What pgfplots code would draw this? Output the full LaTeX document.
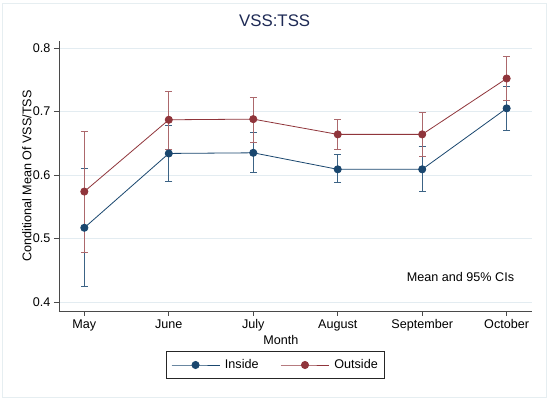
\documentclass[border=0pt]{standalone}
\usepackage{fontspec}
\setmainfont{Liberation Sans}
\usepackage{pgfplots}
\pgfplotsset{compat=1.18}
\definecolor{sblue}{HTML}{1A476F}
\definecolor{sred}{HTML}{90353B}
\definecolor{stitle}{HTML}{1E2A55}
\definecolor{sgrid}{HTML}{E3ECF1}
\definecolor{sframe}{HTML}{E6EEF1}
\definecolor{saxis}{HTML}{4A4A4A}
\begin{document}
\begin{tikzpicture}
\path[use as bounding box] (-59pt,-93pt) rectangle (491pt,311pt);
\fill[white] (-59pt,-93pt) rectangle (491pt,311pt);
\draw[sframe, line width=1pt] (-56pt,-87pt) rectangle (487pt,307pt);
\begin{axis}[
  at={(0,0)}, anchor=south west,
  scale only axis, width=473pt, height=270pt,
  xmin=-0.3, xmax=5.3, ymin=0.386, ymax=0.811,
  axis lines*=left,
  axis line style={saxis, line width=0.9pt},
  xtick={0,1,2,3,4,5},
  xticklabels={May,June,July,August,September,October},
  ytick={0.4,0.5,0.6,0.7,0.8},
  yticklabel style={/pgf/number format/fixed, /pgf/number format/precision=1, /pgf/number format/fixed zerofill},
  /pgf/number format/assume math mode=true,
  tick align=outside, major tick length=5pt,
  tick style={saxis, line width=0.8pt},
  ymajorgrids, grid style={sgrid, line width=0.9pt},
  font=\fontsize{12.6}{15}\selectfont,
  ticklabel style={font=\fontsize{12.6}{15}\selectfont},
  title={VSS:TSS},
  title style={font=\fontsize{16.8}{19}\selectfont, text=stitle, at={(axis description cs:0.456,1.052)}, anchor=center},
  xlabel={Month},
  xlabel style={at={(axis description cs:0.469,-0.107)}, anchor=center},
  ylabel={Conditional Mean Of VSS/TSS},
  ylabel style={at={(axis description cs:-0.068,0.5)}, anchor=center, rotate=0},
  legend columns=2,
  legend style={at={(axis description cs:0.4577,-0.2)}, anchor=center, draw=black!85, line width=0.8pt,
    font=\fontsize{12.6}{15}\selectfont, inner xsep=5pt, inner ysep=6pt,
    /tikz/every odd column/.append style={column sep=3pt},
    /tikz/every even column/.append style={column sep=20pt}},
  legend image code/.code={\draw[mark repeat=2,mark phase=2] plot coordinates {(0pt,0pt) (24pt,0pt) (48pt,0pt)};},
  clip=false,
]
\addplot[sblue, line width=0.8pt, mark=*, mark size=3.6pt, mark options={fill=sblue, draw=sblue},
  error bars/.cd, y dir=both, y explicit,
  error bar style={sblue!85, line width=0.8pt},
  error mark options={rotate=90, mark size=3.5pt, sblue!85, line width=0.8pt}]
  coordinates {
  (0,0.517) += (0,0.093) -= (0,0.093)
  (1,0.634) += (0,0.044) -= (0,0.044)
  (2,0.635) += (0,0.032) -= (0,0.031)
  (3,0.609) += (0,0.023) -= (0,0.020)
  (4,0.609) += (0,0.036) -= (0,0.035)
  (5,0.705) += (0,0.034) -= (0,0.034)
  };
\addlegendentry{Inside}
\addplot[sred, line width=0.8pt, mark=*, mark size=3.6pt, mark options={fill=sred, draw=sred},
  error bars/.cd, y dir=both, y explicit,
  error bar style={sred!75, line width=0.8pt},
  error mark options={rotate=90, mark size=3.5pt, sred!75, line width=0.8pt}]
  coordinates {
  (0,0.574) += (0,0.094) -= (0,0.095)
  (1,0.687) += (0,0.045) -= (0,0.046)
  (2,0.688) += (0,0.035) -= (0,0.036)
  (3,0.664) += (0,0.024) -= (0,0.024)
  (4,0.664) += (0,0.034) -= (0,0.035)
  (5,0.752) += (0,0.034) -= (0,0.034)
  };
\addlegendentry{Outside}
\node[anchor=east, font=\fontsize{12.6}{15}\selectfont] at (axis cs:5.13,0.439) {Mean and 95\% CIs};
\end{axis}
\end{tikzpicture}
\end{document}
